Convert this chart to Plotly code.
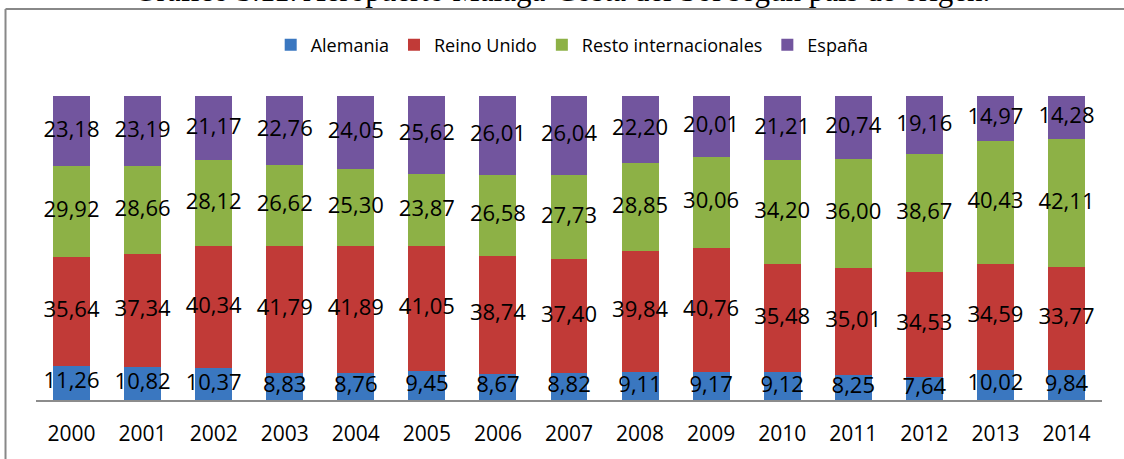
import plotly.graph_objects as go

years = ["2000", "2001", "2002", "2003", "2004", "2005", "2006", "2007",
         "2008", "2009", "2010", "2011", "2012", "2013", "2014"]
alemania = [11.26, 10.82, 10.37, 8.83, 8.76, 9.45, 8.67, 8.82, 9.11, 9.17, 9.12, 8.25, 7.64, 10.02, 9.84]
reino_unido = [35.64, 37.34, 40.34, 41.79, 41.89, 41.05, 38.74, 37.40, 39.84, 40.76, 35.48, 35.01, 34.53, 34.59, 33.77]
resto_int = [29.92, 28.66, 28.12, 26.62, 25.30, 23.87, 26.58, 27.73, 28.85, 30.06, 34.20, 36.00, 38.67, 40.43, 42.11]
espana = [23.18, 23.19, 21.17, 22.76, 24.05, 25.62, 26.01, 26.04, 22.20, 20.01, 21.21, 20.74, 19.16, 14.97, 14.28]

series = [
    ("Alemania", alemania, "#3A77C0"),
    ("Reino Unido", reino_unido, "#C13A37"),
    ("Resto internacionales", resto_int, "#8DB146"),
    ("España", espana, "#72559E"),
]

LABEL_FONT = "Open Sans"

fig = go.Figure()
base = [0.0] * len(years)
for name, vals, color in series:
    fig.add_trace(go.Bar(
        x=years, y=vals, name=name,
        marker=dict(color=color, line=dict(width=0)),
    ))
    mids = [b + v / 2 for b, v in zip(base, vals)]
    fig.add_trace(go.Scatter(
        x=years, y=mids, mode="text",
        text=[f"{v:.2f}".replace(".", ",") for v in vals],
        textposition="middle center",
        textfont=dict(family=LABEL_FONT, size=22, color="black"),
        showlegend=False, hoverinfo="skip", cliponaxis=False,
    ))
    base = [b + v for b, v in zip(base, vals)]

fig.update_layout(
    width=1124, height=459,
    margin=dict(l=36, r=22, t=96, b=59),
    barmode="stack",
    bargap=0.48,
    paper_bgcolor="white",
    plot_bgcolor="white",
    showlegend=True,
    legend=dict(
        orientation="h", x=0.503, xanchor="center", y=1.168, yanchor="middle",
        font=dict(family=LABEL_FONT, size=18, color="black"),
        traceorder="normal",
    ),
    xaxis=dict(
        range=[-0.5, len(years) - 0.5], autorange=False,
        showline=True, linecolor="#8C8C8C", linewidth=2,
        showgrid=False, ticks="", zeroline=False,
        ticklabelstandoff=14,
        tickfont=dict(family=LABEL_FONT, size=21, color="black"),
    ),
    yaxis=dict(
        range=[0, 100], autorange=False, visible=False, showgrid=False, zeroline=False,
    ),
    annotations=[dict(
        text="Gráfico 3.11. Aeropuerto Málaga-Costa del Sol según país de origen.",
        xref="paper", yref="paper", x=0.4934, y=1.283,
        xanchor="center", yanchor="bottom", showarrow=False,
        font=dict(family="Liberation Serif", size=31, color="black"),
    )],
    shapes=[
        dict(type="line", xref="paper", yref="paper",
             x0=-0.0286, x1=-0.0286, y0=-0.4, y1=1.286,
             line=dict(color="#888888", width=2), layer="below"),
        dict(type="line", xref="paper", yref="paper",
             x0=-0.0286, x1=1.021, y0=1.286, y1=1.286,
             line=dict(color="#888888", width=2), layer="below"),
    ],
)

fig.write_html(
    "out.html",
    config={"displayModeBar": False},
    post_script=(
        "document.body.style.margin='0';"
        "document.body.style.overflow='hidden';"
        "document.documentElement.style.overflow='hidden';"
    ),
)
